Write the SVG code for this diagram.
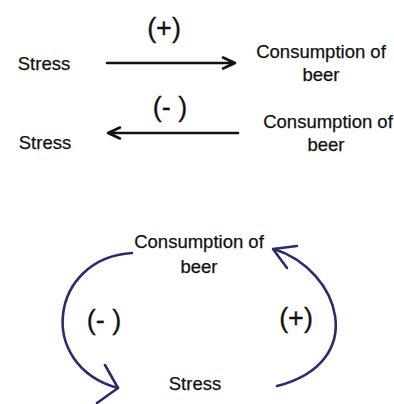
<svg xmlns="http://www.w3.org/2000/svg" width="394" height="404" viewBox="0 0 394 404">
<style>
.lbl{font-family:"Liberation Sans",Arial,sans-serif;font-size:18.5px;fill:#111;stroke:#111;stroke-width:0.25;text-anchor:middle}
.sign{font-family:"Liberation Sans",Arial,sans-serif;font-size:27px;fill:#111;stroke:#111;stroke-width:0.3;text-anchor:middle}
.blk{fill:none;stroke:#111;stroke-width:2.6;stroke-linecap:round;stroke-linejoin:round}
.nav{fill:none;stroke:#2b2c6e;stroke-width:2.6;stroke-linecap:round;stroke-linejoin:round}
</style>
<rect width="394" height="404" fill="#ffffff"/>
<g id="stress-1"><text class="lbl" x="44" y="70">Stress</text></g>
<g id="beer-1"><text class="lbl" x="321" y="58">Consumption of</text><text class="lbl" x="321" y="81">beer</text></g>
<g id="stress-2"><text class="lbl" x="45" y="149">Stress</text></g>
<g id="beer-2"><text class="lbl" x="328" y="128">Consumption of</text><text class="lbl" x="326" y="151">beer</text></g>
<g id="beer-3"><text class="lbl" x="199" y="248">Consumption of</text><text class="lbl" x="199" y="273">beer</text></g>
<g id="stress-3"><text class="lbl" x="195" y="390">Stress</text></g>
<g id="connectors">
<path class="blk" d="M107,63 H234 M223,57.5 L235,63 L223,68.5"/>
<path class="blk" d="M238,133 H109 M120,127.5 L108,133 L120,138.5"/>
<path class="nav" d="M132,253 C50,258 35,365 118,388"/>
<path class="nav" d="M105,365 L118,388 L97,403"/>
<path class="nav" d="M277,386 C370,362 340,270 274,249"/>
<path class="nav" d="M297,246 L273,249 L287,268"/>
</g>
<g id="labels">
<text class="sign" x="164" y="37">(+)</text>
<text class="sign" x="170" y="116">(- )</text>
<text class="sign" x="104" y="329">(- )</text>
<text class="sign" x="296" y="327">(+)</text>
</g>
</svg>
